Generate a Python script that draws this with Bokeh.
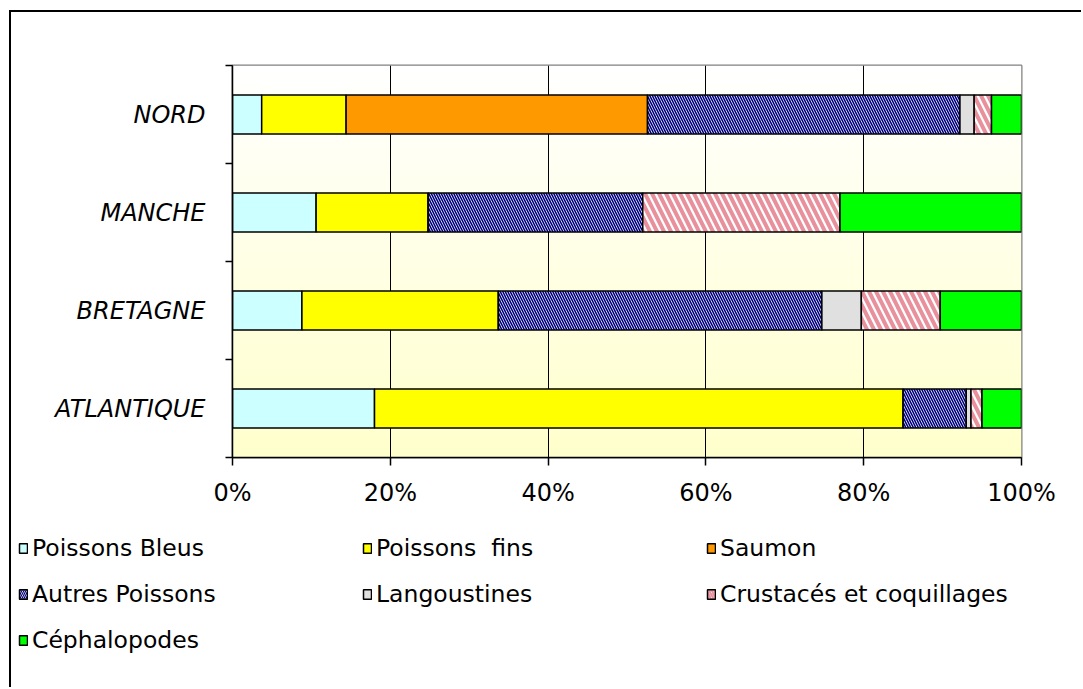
import numpy as np
from bokeh.plotting import figure
from bokeh.layouts import column
from bokeh.models import Range1d, FixedTicker, Legend, LegendItem
from bokeh.embed import file_html
from bokeh.resources import INLINE

# ---- data (percent shares) ----
regions = ["ATLANTIQUE", "BRETAGNE", "MANCHE", "NORD"]
series = ["Poissons Bleus", "Poissons  fins", "Saumon", "Autres Poissons",
          "Langoustines", "Crustacés et coquillages", "Céphalopodes"]
poissons_bleus = [18.0, 8.8, 10.6, 3.7]
poissons_fins = [67.0, 24.9, 14.2, 10.7]
saumon = [0.0, 0.0, 0.0, 38.2]
autres_poissons = [8.0, 41.0, 27.2, 39.6]
langoustines = [0.6, 5.0, 0.0, 1.8]
crustaces = [1.4, 10.0, 25.0, 2.2]
cephalopodes = [5.0, 10.3, 23.0, 3.8]
x_ticks = [0, 20, 40, 60, 80, 100]
x_tick_labels = ["0%", "20%", "40%", "60%", "80%", "100%"]

colors = ["#CCFFFF", "#FFFF00", "#FF9900", "#FFFFFF", "#E0E0E0", "#FFFFFF", "#00FF00"]
hatches = [" ", " ", " ", "\\", " ", "\\", " "]
hatch_colors = ["black", "black", "black", "#000080", "black", "#E8909C", "black"]
hatch_scales = [12, 12, 12, 5.0, 12, 14.0, 12]
hatch_weights = [1, 1, 1, 1.6, 1, 4.0, 1]

keys = ["s%d" % i for i in range(len(series))]
ypos = [i + 0.5 for i in range(len(regions))]
data = dict(y=ypos)
for k, v in zip(keys, [poissons_bleus, poissons_fins, saumon, autres_poissons,
                       langoustines, crustaces, cephalopodes]):
    data[k] = v

p = figure(width=1072, height=498, output_backend="svg", toolbar_location=None,
           x_range=Range1d(0, 100), y_range=Range1d(0, 4),
           min_border_left=221, min_border_top=53, min_border_right=62,
           min_border_bottom=53, background_fill_color="white",
           border_fill_color="white",
           styles={"margin-left": "9px", "margin-top": "10px",
                   "border-left": "2px solid black",
                   "border-top": "2px solid black"})
p.frame_align = False

# background gradient (white at top to pale yellow at bottom)
n = 120
img = np.empty((n, 1), dtype=np.uint32)
view = img.view(dtype=np.uint8).reshape((n, 1, 4))
for i in range(n):
    t = i / (n - 1)
    view[i, 0, 0] = 255
    view[i, 0, 1] = 255
    view[i, 0, 2] = int(round(204 + 51 * t))
    view[i, 0, 3] = 255
p.image_rgba(image=[img], x=0, y=0, dw=100, dh=4, level="image")

renderers = p.hbar_stack(keys, y="y", height=0.4, source=data,
                         fill_color=colors, line_color="black", line_width=1.5,
                         hatch_pattern=hatches, hatch_color=hatch_colors,
                         hatch_scale=hatch_scales, hatch_weight=hatch_weights)

# axes
p.xaxis.ticker = FixedTicker(ticks=x_ticks)
p.xaxis.major_label_overrides = {t: l for t, l in zip(x_ticks, x_tick_labels)}
p.xaxis.major_label_text_font = "DejaVu Sans"
p.xaxis.major_label_text_font_size = "24px"
p.xaxis.major_label_text_color = "black"
p.xaxis.major_tick_in = 0
p.xaxis.major_tick_out = 8
p.xaxis.minor_tick_line_color = None
p.xaxis.major_label_standoff = 13
p.xaxis.axis_line_color = "black"
p.xaxis.axis_line_width = 1.5
p.xaxis.major_tick_line_width = 1.5

p.yaxis.ticker = FixedTicker(ticks=ypos, minor_ticks=[0, 1, 2, 3, 4])
p.yaxis.major_label_overrides = {y: r for y, r in zip(ypos, regions)}
p.yaxis.major_label_text_font = "DejaVu Sans"
p.yaxis.major_label_text_font_style = "italic"
p.yaxis.major_label_text_font_size = "24px"
p.yaxis.major_label_text_color = "black"
p.yaxis.major_tick_line_color = None
p.yaxis.major_tick_out = 0
p.yaxis.major_tick_in = 0
p.yaxis.minor_tick_in = 0
p.yaxis.minor_tick_out = 7
p.yaxis.minor_tick_line_color = "black"
p.yaxis.minor_tick_line_width = 1.5
p.yaxis.major_label_standoff = 20
p.yaxis.axis_line_color = "black"
p.yaxis.axis_line_width = 1.5

p.xgrid.ticker = FixedTicker(ticks=[20, 40, 60, 80])
p.xgrid.grid_line_color = "black"
p.xgrid.grid_line_width = 1
p.ygrid.grid_line_color = None
p.outline_line_color = "#808080"
p.outline_line_width = 2

# legend panel (second figure, frame covers its whole canvas)
lw, lh = 1072, 179
pl = figure(width=lw, height=lh, output_backend="svg", toolbar_location=None,
            x_range=Range1d(0, 1), y_range=Range1d(0, 1),
            x_axis_type=None, y_axis_type=None,
            min_border_left=0, min_border_right=0, min_border_top=0,
            min_border_bottom=0, outline_line_color=None,
            background_fill_color="white", border_fill_color="white",
            styles={"margin-left": "9px", "border-left": "2px solid black"})
pl.frame_align = False
pl.grid.visible = False
# legend proxies: one off-range entry each, only their swatches are seen
proxy = dict(y=[-5.0], left=[0.0], right=[0.0])
leg_renderers = []
for i in range(len(series)):
    r = pl.hbar(y=proxy["y"], left=proxy["left"], right=proxy["right"],
                height=0.4, fill_color=colors[i],
                line_color="black", line_width=1.5, hatch_pattern=hatches[i],
                hatch_color=hatch_colors[i], hatch_scale=4 if i == 3 else 5,
                hatch_weight=1.2 if i == 3 else 2.0)
    leg_renderers.append(r)

items = [LegendItem(label=s, renderers=[r]) for s, r in zip(series, leg_renderers)]
legend = Legend(items=items, orientation="horizontal", ncols=3,
                location=(7, 29), padding=0, margin=0, spacing=10,
                glyph_width=10, glyph_height=12, label_standoff=4,
                label_width=320, label_height=36,
                label_text_font="DejaVu Sans", label_text_font_size="23.5px",
                label_text_color="black", border_line_color=None,
                background_fill_alpha=0)
pl.add_layout(legend, "center")

layout = column(p, pl, spacing=0)
open("out.html", "w").write(file_html(layout, INLINE))
